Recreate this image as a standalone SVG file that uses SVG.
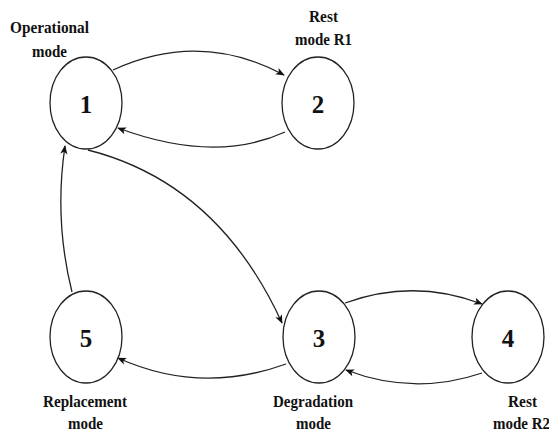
<svg xmlns="http://www.w3.org/2000/svg" width="549" height="434" viewBox="0 0 549 434">
<defs>
<marker id="arr" viewBox="0 0 10 10" refX="9" refY="5" markerWidth="9" markerHeight="9" markerUnits="userSpaceOnUse" orient="auto">
<path d="M0,1 L10,5 L0,9 L2.5,5 Z" fill="#111"/>
</marker>
<style>
.node ellipse{fill:#fff;stroke:#222;stroke-width:1.3}
text{font-family:"Liberation Serif","Times New Roman","DejaVu Serif",serif;font-weight:bold;text-anchor:middle;fill:#111}
.num{font-size:25px}
.lbl{font-size:17px}
.edges path{fill:none;stroke:#222;stroke-width:1.3;marker-end:url(#arr)}
</style>
</defs>
<rect width="549" height="434" fill="#fff"/>
<g class="edges" id="connectors">
<path d="M113,70 Q200,30 284,75"/>
<path d="M285,132 Q215,164 118,128"/>
<path d="M88,150 Q218,183 282,323"/>
<path d="M72,292 Q54,220 65,146"/>
<path d="M286,364 Q200,395 118,358"/>
<path d="M345,303 Q414,278 482,304"/>
<path d="M482,373 Q414,396 346,370"/>
</g>
<g class="node" id="node1">
<ellipse cx="86" cy="103" rx="36" ry="46"/>
<text class="num" x="86" y="113">1</text>
<text class="lbl" x="49.5" y="33" textLength="79" lengthAdjust="spacingAndGlyphs">Operational</text>
<text class="lbl" x="49.5" y="57" textLength="35" lengthAdjust="spacingAndGlyphs">mode</text>
</g>
<g class="node" id="node2">
<ellipse cx="318" cy="103" rx="36" ry="46"/>
<text class="num" x="318" y="113">2</text>
<text class="lbl" x="323.5" y="22" textLength="29" lengthAdjust="spacingAndGlyphs">Rest</text>
<text class="lbl" x="323.5" y="45" textLength="57" lengthAdjust="spacingAndGlyphs">mode R1</text>
</g>
<g class="node" id="node3">
<ellipse cx="319" cy="337" rx="36" ry="46"/>
<text class="num" x="319" y="347">3</text>
<text class="lbl" x="313" y="407" textLength="80" lengthAdjust="spacingAndGlyphs">Degradation</text>
<text class="lbl" x="313.5" y="429" textLength="35" lengthAdjust="spacingAndGlyphs">mode</text>
</g>
<g class="node" id="node4">
<ellipse cx="508" cy="337" rx="36" ry="46"/>
<text class="num" x="508" y="347">4</text>
<text class="lbl" x="522.5" y="407" textLength="29" lengthAdjust="spacingAndGlyphs">Rest</text>
<text class="lbl" x="521.5" y="429" textLength="57" lengthAdjust="spacingAndGlyphs">mode R2</text>
</g>
<g class="node" id="node5">
<ellipse cx="86" cy="337" rx="36" ry="46"/>
<text class="num" x="86" y="347">5</text>
<text class="lbl" x="85" y="407" textLength="84" lengthAdjust="spacingAndGlyphs">Replacement</text>
<text class="lbl" x="85.5" y="429" textLength="35" lengthAdjust="spacingAndGlyphs">mode</text>
</g>
</svg>
